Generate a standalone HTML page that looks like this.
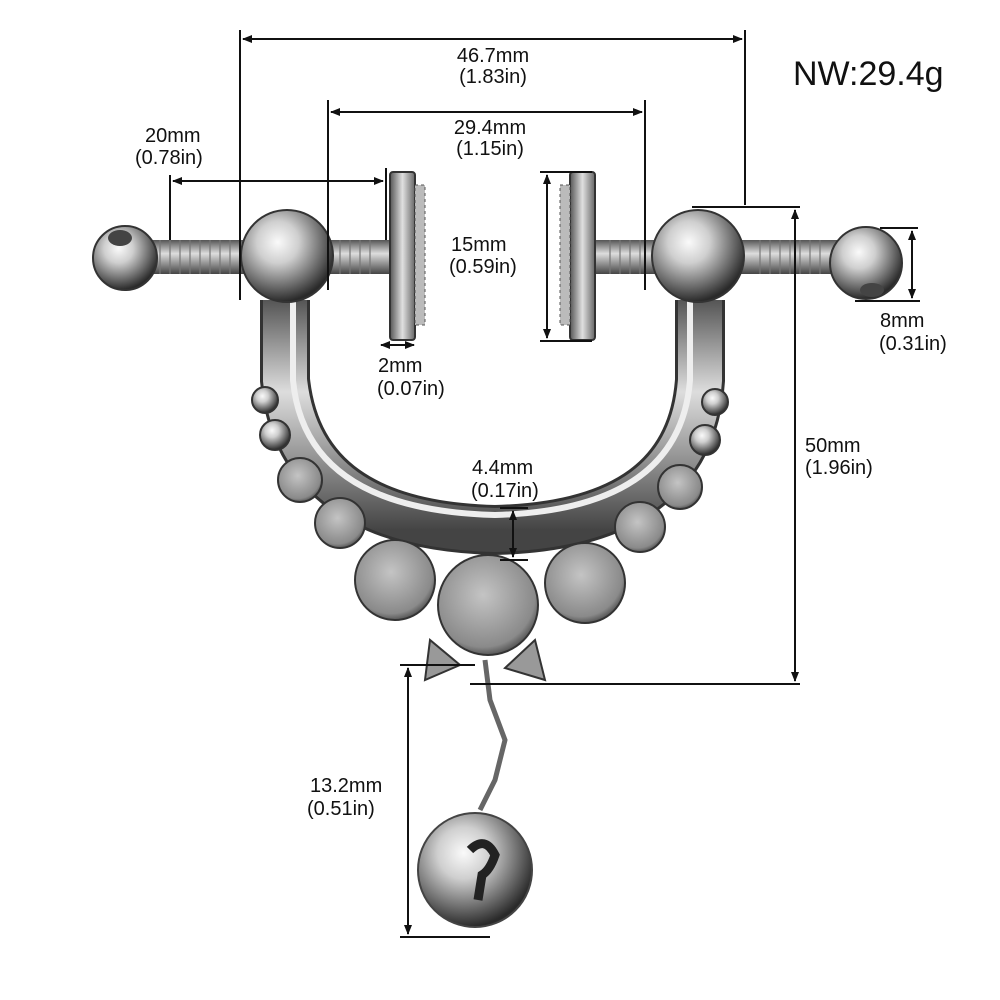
<!DOCTYPE html>
<html><head><meta charset="utf-8"><style>
html,body{margin:0;padding:0;background:#fff;}
svg{display:block}
text{font-family:"Liberation Sans",sans-serif;fill:#111;}
</style></head><body>
<svg width="1000" height="1000" viewBox="0 0 1000 1000" xmlns="http://www.w3.org/2000/svg">
<defs>
<radialGradient id="ball" cx="40%" cy="35%" r="65%">
<stop offset="0" stop-color="#fafafa"/><stop offset="0.35" stop-color="#cfcfcf"/><stop offset="0.75" stop-color="#6a6a6a"/><stop offset="1" stop-color="#2a2a2a"/></radialGradient>
<radialGradient id="disc" cx="45%" cy="40%" r="65%">
<stop offset="0" stop-color="#c4c4c4"/><stop offset="0.8" stop-color="#8a8a8a"/><stop offset="1" stop-color="#3a3a3a"/></radialGradient>
<linearGradient id="bar" x1="0" y1="0" x2="0" y2="1">
<stop offset="0" stop-color="#555"/><stop offset="0.4" stop-color="#ddd"/><stop offset="1" stop-color="#444"/></linearGradient>
<linearGradient id="plate" x1="0" y1="0" x2="1" y2="0">
<stop offset="0" stop-color="#555"/><stop offset="0.5" stop-color="#e0e0e0"/><stop offset="1" stop-color="#666"/></linearGradient>
<marker id="ar" markerWidth="10" markerHeight="10" refX="9" refY="5" orient="auto-start-reverse" markerUnits="userSpaceOnUse"><path d="M0,1 L10,5 L0,9 Z" fill="#111"/></marker>
</defs>

<!-- jewelry -->
<rect x="130" y="240" width="262" height="34" fill="url(#bar)"/>
<rect x="593" y="240" width="277" height="34" fill="url(#bar)"/>
<g stroke="#777" stroke-width="1.2">
<line x1="150" y1="240" x2="150" y2="274"/><line x1="160" y1="240" x2="160" y2="274"/><line x1="170" y1="240" x2="170" y2="274"/><line x1="180" y1="240" x2="180" y2="274"/><line x1="190" y1="240" x2="190" y2="274"/><line x1="200" y1="240" x2="200" y2="274"/><line x1="210" y1="240" x2="210" y2="274"/><line x1="220" y1="240" x2="220" y2="274"/><line x1="230" y1="240" x2="230" y2="274"/>
<line x1="340" y1="240" x2="340" y2="274"/><line x1="350" y1="240" x2="350" y2="274"/><line x1="360" y1="240" x2="360" y2="274"/><line x1="370" y1="240" x2="370" y2="274"/>
<line x1="610" y1="240" x2="610" y2="274"/><line x1="620" y1="240" x2="620" y2="274"/><line x1="630" y1="240" x2="630" y2="274"/><line x1="640" y1="240" x2="640" y2="274"/>
<line x1="760" y1="240" x2="760" y2="274"/><line x1="770" y1="240" x2="770" y2="274"/><line x1="780" y1="240" x2="780" y2="274"/><line x1="790" y1="240" x2="790" y2="274"/><line x1="800" y1="240" x2="800" y2="274"/><line x1="810" y1="240" x2="810" y2="274"/><line x1="820" y1="240" x2="820" y2="274"/>
</g>
<!-- U arc -->
<path d="M285,300 L285,380 Q300,525 495,530 Q690,525 700,380 L700,300" fill="none" stroke="#333" stroke-width="50"/>
<path d="M285,300 L285,380 Q300,525 495,530 Q690,525 700,380 L700,300" fill="none" stroke="url(#bar)" stroke-width="44"/>
<path d="M293,300 L293,380 Q305,510 495,515 Q680,510 690,380 L690,300" fill="none" stroke="#eee" stroke-width="6"/>
<!-- beads -->
<g stroke="#333" stroke-width="2">
<circle cx="265" cy="400" r="13" fill="url(#ball)"/><circle cx="275" cy="435" r="15" fill="url(#ball)"/>
<circle cx="300" cy="480" r="22" fill="url(#disc)"/><circle cx="340" cy="523" r="25" fill="url(#disc)"/>
<circle cx="395" cy="580" r="40" fill="url(#disc)"/>
<circle cx="715" cy="402" r="13" fill="url(#ball)"/><circle cx="705" cy="440" r="15" fill="url(#ball)"/>
<circle cx="680" cy="487" r="22" fill="url(#disc)"/><circle cx="640" cy="527" r="25" fill="url(#disc)"/>
<circle cx="585" cy="583" r="40" fill="url(#disc)"/>
<path d="M430,640 L425,680 L460,665 Z" fill="#999"/><path d="M535,640 L545,680 L505,668 Z" fill="#999"/>
<circle cx="488" cy="605" r="50" fill="url(#disc)"/>
</g>
<!-- chain & bell -->
<path d="M485,660 L490,700 L505,740 L495,780 L480,810" fill="none" stroke="#666" stroke-width="5"/>
<circle cx="475" cy="870" r="57" fill="url(#ball)" stroke="#444" stroke-width="2"/>
<path d="M470,850 Q485,835 495,855 Q490,870 482,875 L478,900" fill="none" stroke="#222" stroke-width="9"/>
<!-- balls -->
<circle cx="125" cy="258" r="32" fill="url(#ball)" stroke="#333" stroke-width="2"/>
<ellipse cx="120" cy="238" rx="12" ry="8" fill="#444"/>
<circle cx="287" cy="256" r="46" fill="url(#ball)" stroke="#333" stroke-width="2"/>
<circle cx="698" cy="256" r="46" fill="url(#ball)" stroke="#333" stroke-width="2"/>
<circle cx="866" cy="263" r="36" fill="url(#ball)" stroke="#333" stroke-width="2"/>
<ellipse cx="872" cy="290" rx="12" ry="7" fill="#444"/>
<!-- plates -->
<rect x="390" y="172" width="25" height="168" rx="3" fill="url(#plate)" stroke="#333" stroke-width="2"/>
<rect x="415" y="185" width="10" height="140" fill="#bbb" stroke="#555" stroke-dasharray="3,3"/>
<rect x="570" y="172" width="25" height="168" rx="3" fill="url(#plate)" stroke="#333" stroke-width="2"/>
<rect x="560" y="185" width="10" height="140" fill="#bbb" stroke="#555" stroke-dasharray="3,3"/>

<!-- dimension lines -->
<g stroke="#111" stroke-width="2" fill="none">
<line x1="240" y1="30" x2="240" y2="300"/><line x1="745" y1="30" x2="745" y2="205"/>
<line x1="243" y1="39" x2="742" y2="39" marker-start="url(#ar)" marker-end="url(#ar)"/>
<line x1="328" y1="100" x2="328" y2="290"/><line x1="645" y1="100" x2="645" y2="290"/>
<line x1="331" y1="112" x2="642" y2="112" marker-start="url(#ar)" marker-end="url(#ar)"/>
<line x1="170" y1="175" x2="170" y2="240"/><line x1="386" y1="168" x2="386" y2="240"/>
<line x1="173" y1="181" x2="383" y2="181" marker-start="url(#ar)" marker-end="url(#ar)"/>
<line x1="540" y1="172" x2="592" y2="172"/><line x1="540" y1="341" x2="592" y2="341"/>
<line x1="547" y1="175" x2="547" y2="338" marker-start="url(#ar)" marker-end="url(#ar)"/>
<line x1="880" y1="228" x2="918" y2="228"/><line x1="855" y1="301" x2="920" y2="301"/>
<line x1="912" y1="231" x2="912" y2="298" marker-start="url(#ar)" marker-end="url(#ar)"/>
<line x1="381" y1="345" x2="414" y2="345" marker-start="url(#ar)" marker-end="url(#ar)"/>
<line x1="692" y1="207" x2="800" y2="207"/><line x1="470" y1="684" x2="800" y2="684"/>
<line x1="795" y1="210" x2="795" y2="681" marker-start="url(#ar)" marker-end="url(#ar)"/>
<line x1="500" y1="508" x2="528" y2="508"/><line x1="500" y1="560" x2="528" y2="560"/>
<line x1="513" y1="511" x2="513" y2="557" marker-start="url(#ar)" marker-end="url(#ar)"/>
<line x1="400" y1="665" x2="475" y2="665"/><line x1="400" y1="937" x2="490" y2="937"/>
<line x1="408" y1="668" x2="408" y2="934" marker-start="url(#ar)" marker-end="url(#ar)"/>
</g>

<!-- labels -->
<g font-size="20">
<text x="493" y="62" text-anchor="middle">46.7mm</text><text x="493" y="83" text-anchor="middle">(1.83in)</text>
<text x="490" y="134" text-anchor="middle">29.4mm</text><text x="490" y="155" text-anchor="middle">(1.15in)</text>
<text x="145" y="142">20mm</text><text x="135" y="164">(0.78in)</text>
<text x="451" y="251">15mm</text><text x="449" y="273">(0.59in)</text>
<text x="880" y="327">8mm</text><text x="879" y="350">(0.31in)</text>
<text x="378" y="372">2mm</text><text x="377" y="395">(0.07in)</text>
<text x="472" y="474">4.4mm</text><text x="471" y="497">(0.17in)</text>
<text x="805" y="452">50mm</text><text x="805" y="474">(1.96in)</text>
<text x="310" y="792">13.2mm</text><text x="307" y="815">(0.51in)</text>
</g>
<text x="793" y="85" font-size="34">NW:29.4g</text>
</svg>
</body></html>
